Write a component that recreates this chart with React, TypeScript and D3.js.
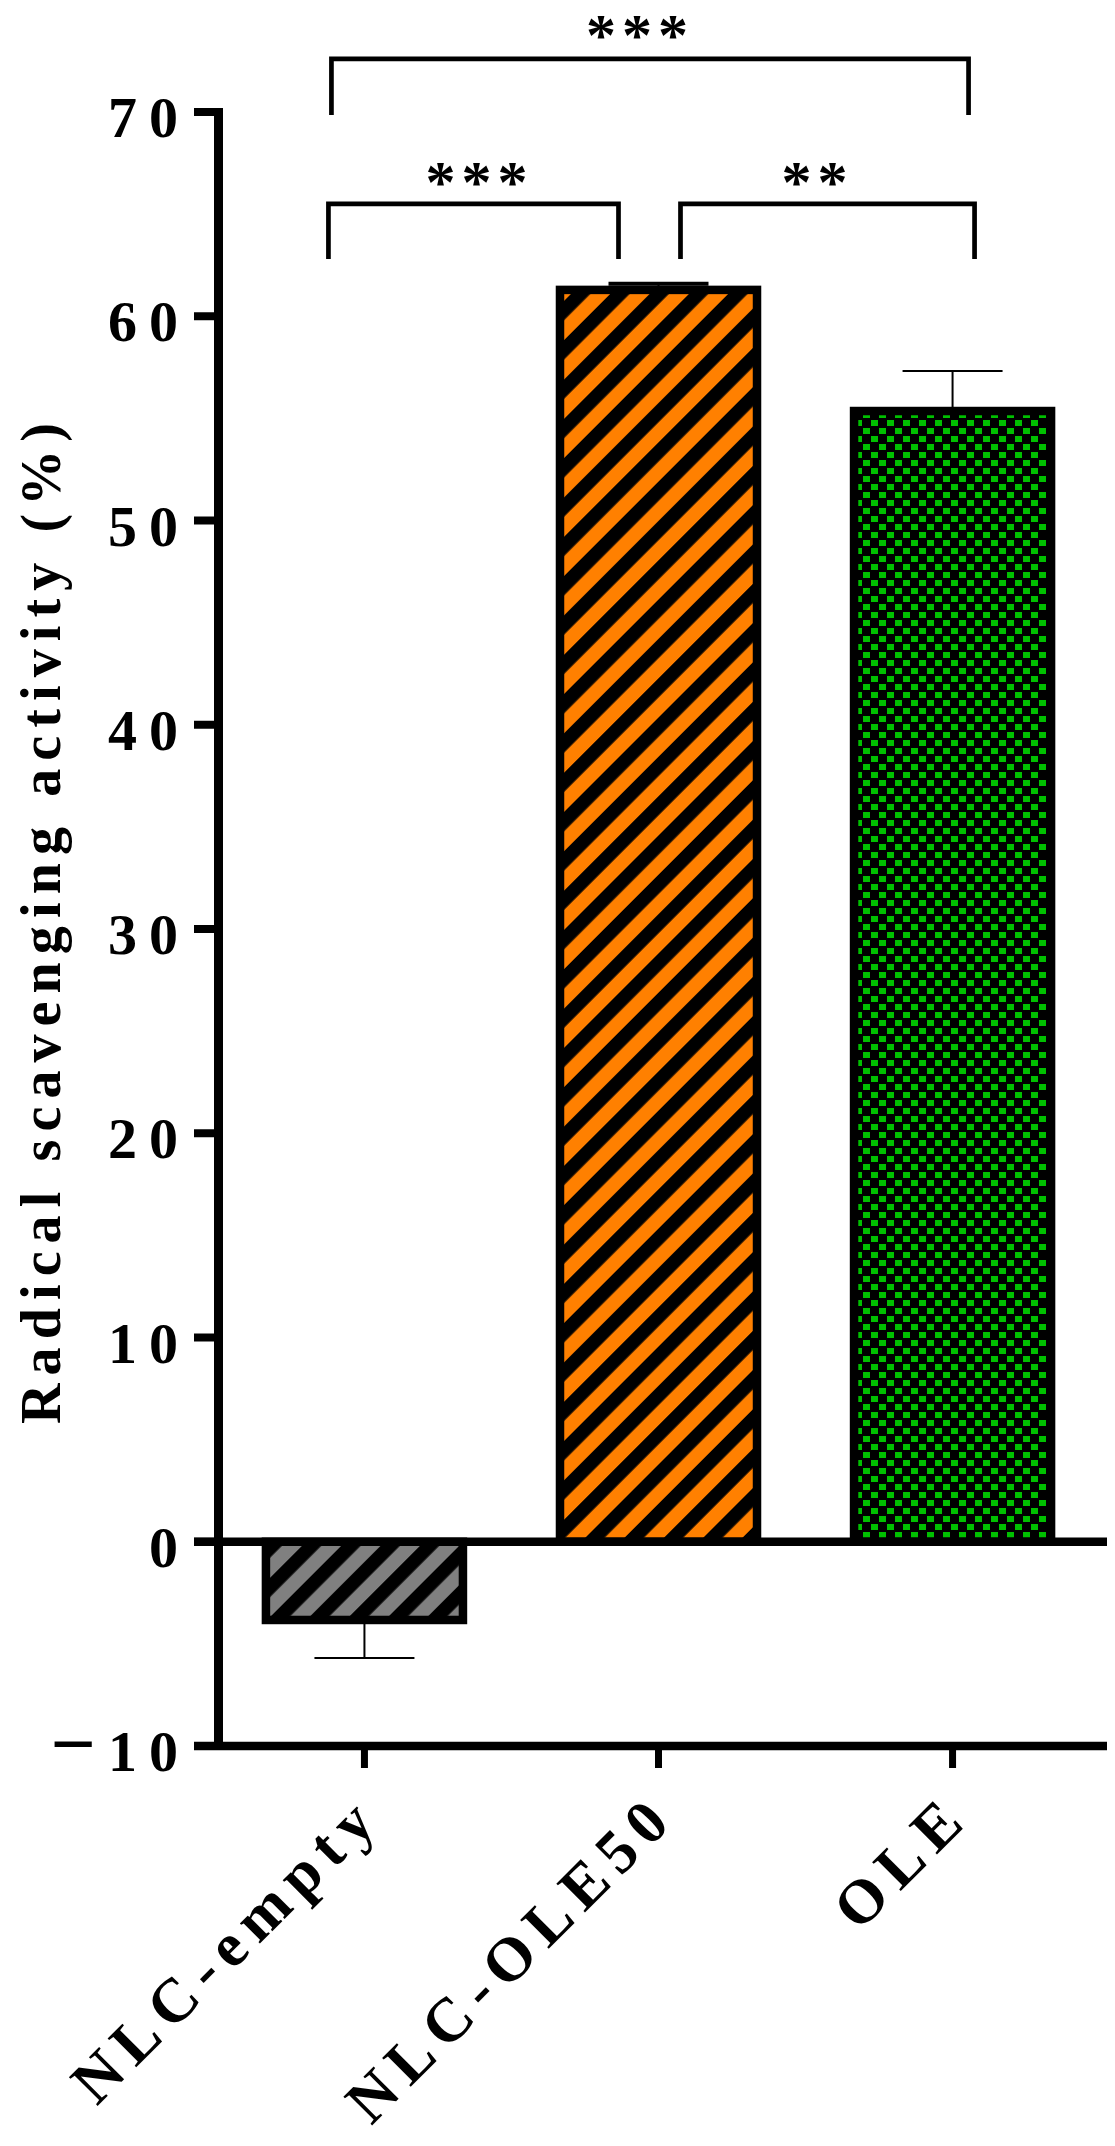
import React from 'react';
import * as d3 from 'd3';

const categories: string[] = ['NLC-empty', 'NLC-OLE50', 'OLE'];
const means: number[] = [-3.83, 61.29, 55.36];
const errors: number[] = [1.86, 0.3, 1.96];
const yTicks: number[] = [-10, 0, 10, 20, 30, 40, 50, 60, 70];
const yTitle = 'Radical scavenging activity (%)';
// significance brackets: categories joined, label, bar height and leg bottom (data units)
const bracketFrom: number[] = [0, 0, 1];
const bracketTo: number[] = [2, 1, 2];
const bracketLabels: string[] = ['***', '***', '**'];
const bracketTop: number[] = [72.6, 65.5, 65.5];
const bracketLegEnd: number[] = [69.85, 62.8, 62.8];

const FONT = '"Liberation Serif", "Times New Roman", Times, serif';
const fills = ['url(#hatchGrey)', 'url(#hatchOrange)', 'url(#checkGreen)'];
// visual leg offsets relative to the bar centre (left leg, right leg), label shift, label gap
const legOffsets: [number, number, number, number][] = [
  [-33, 16, -13, 11],
  [-36, -40, 3, 2],
  [22, 22, -13, 2],
];

export default function App() {
  const W = 1115;
  const H = 2146;
  const x = d3
    .scaleBand<string>()
    .domain(categories)
    .range([218, 1099])
    .paddingInner(0.33)
    .paddingOuter(0.163);
  const y = d3.scaleLinear().domain([-10, 70]).range([1746, 112]);
  const bw = x.bandwidth();
  const cx = (c: string) => (x(c) as number) + bw / 2;
  const axisX = 218.5;
  const axisRight = 1107;
  const tickLeft = 194;

  return (
    <svg
      width={W}
      height={H}
      viewBox={`0 0 ${W} ${H}`}
      style={{ position: 'absolute', left: 0, top: 0, background: '#fff' }}
      fontFamily={FONT}
    >
      <defs>
        <pattern id="hatchGrey" patternUnits="userSpaceOnUse" width={27.8} height={27.8} patternTransform="rotate(45)">
          <rect x={0} y={0} width={27.8} height={27.8} fill="#808080" />
          <rect x={0} y={0} width={13.6} height={27.8} fill="#000" />
        </pattern>
        <pattern id="hatchOrange" patternUnits="userSpaceOnUse" width={27.8} height={27.8} patternTransform="rotate(45)">
          <rect x={0} y={0} width={27.8} height={27.8} fill="#ff8000" />
          <rect x={0} y={0} width={13.6} height={27.8} fill="#000" />
        </pattern>
        <pattern id="checkGreen" patternUnits="userSpaceOnUse" width={16} height={16} x={855} y={419}>
          <rect x={0} y={0} width={16} height={16} fill="#000" />
          <rect x={0} y={1} width={7} height={6} fill="#00c000" />
          <rect x={8} y={9} width={7} height={6} fill="#00c000" />
        </pattern>
      </defs>

      {/* error bars */}
      {categories.map((c, i) => {
        const m = means[i];
        const e = errors[i];
        const end = m >= 0 ? m + e : m - e;
        return (
          <g key={'err' + c} stroke="#000" strokeWidth={2}>
            <line x1={cx(c)} x2={cx(c)} y1={y(m)} y2={y(end)} />
            <line x1={cx(c) - 50} x2={cx(c) + 50} y1={y(end)} y2={y(end)} strokeWidth={m > 60 ? 4 : 2} />
          </g>
        );
      })}

      {/* bars */}
      {categories.map((c, i) => {
        const m = means[i];
        const y0 = y(0);
        const y1 = y(m);
        return (
          <rect
            key={'bar' + c}
            x={x(c)}
            y={Math.min(y0, y1)}
            width={bw}
            height={Math.abs(y1 - y0)}
            fill={fills[i]}
            stroke="#000"
            strokeWidth={8.5}
          />
        );
      })}

      {/* zero line */}
      <line x1={tickLeft} x2={axisRight} y1={y(0)} y2={y(0)} stroke="#000" strokeWidth={8.5} />
      {/* x axis */}
      <line x1={tickLeft} x2={axisRight} y1={y(-10)} y2={y(-10)} stroke="#000" strokeWidth={8.5} />
      {/* y axis */}
      <line x1={axisX} x2={axisX} y1={y(70) - 4} y2={y(-10) + 4} stroke="#000" strokeWidth={9} />

      {/* y ticks and labels */}
      {yTicks.map((t) => (
        <g key={'yt' + t}>
          <line x1={tickLeft} x2={axisX} y1={y(t)} y2={y(t)} stroke="#000" strokeWidth={8} />
          <text
            x={190}
            y={y(t) + 25}
            textAnchor="end"
            fontSize={58}
            fontWeight="bold"
            letterSpacing={12}
            fill="#000"
          >
            {t < 0 ? (
              <>
                <tspan fontSize={80}>{'\u2212'}</tspan>
                {String(Math.abs(t))}
              </>
            ) : (
              String(t)
            )}
          </text>
        </g>
      ))}

      {/* x ticks and labels */}
      {categories.map((c) => (
        <g key={'xt' + c}>
          <line x1={cx(c)} x2={cx(c)} y1={y(-10) + 4} y2={1768} stroke="#000" strokeWidth={7} />
          <text
            transform={`translate(${cx(c) + 20},${1819}) rotate(-45)`}
            textAnchor="end"
            fontSize={62}
            fontWeight="bold"
            letterSpacing={10}
            fill="#000"
          >
            {c}
          </text>
        </g>
      ))}

      {/* y title */}
      <text
        transform={`translate(60,923.5) rotate(-90)`}
        textAnchor="middle"
        fontSize={56}
        fontWeight="bold"
        textLength={1001}
        lengthAdjust="spacing"
        fill="#000"
      >
        {yTitle}
      </text>

      {/* significance brackets */}
      {bracketLabels.map((lab, i) => {
        const xl = cx(categories[bracketFrom[i]]) + legOffsets[i][0];
        const xr = cx(categories[bracketTo[i]]) + legOffsets[i][1];
        const yt = y(bracketTop[i]);
        const yb = y(bracketLegEnd[i]);
        const ly = Math.max(yt - legOffsets[i][3], 55);
        return (
          <g key={'br' + i}>
            <path
              d={`M${xl},${yb} L${xl},${yt} L${xr},${yt} L${xr},${yb}`}
              fill="none"
              stroke="#000"
              strokeWidth={4.7}
            />
            <text
              x={(xl + xr) / 2 + legOffsets[i][2] + 3}
              y={ly}
              textAnchor="middle"
              fontSize={60}
              fontWeight="bold"
              letterSpacing={6}
              fill="#000"
            >
              {lab}
            </text>
          </g>
        );
      })}
    </svg>
  );
}
